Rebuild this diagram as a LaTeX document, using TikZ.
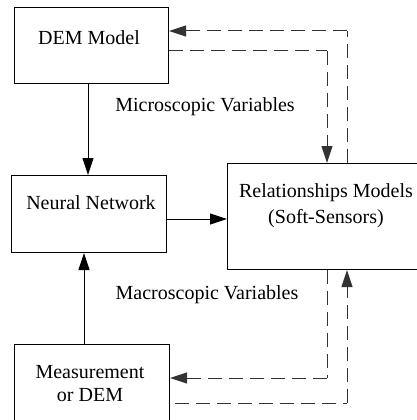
\documentclass[tikz,border=0pt]{standalone}
\usepackage{fontspec}
\setmainfont{Liberation Serif}
\usetikzlibrary{arrows.meta}
\begin{document}
\begin{tikzpicture}[x=1pt,y=-1pt,
  box/.style={draw,line width=1pt,inner sep=0pt,anchor=north west},
  lbl/.style={font=\fontsize{20}{24}\selectfont,inner sep=0pt},
  arr/.style={line width=1pt,-{Triangle[length=17pt,width=11pt]}},
  dsh/.style={line width=1pt,draw=black!80,dash pattern=on 14pt off 7pt}]
\useasboundingbox (0,0) rectangle (417,420);
\clip (0,0) rectangle (417,420);
\node[box,minimum width=154pt,minimum height=76pt] (dem) at (14,7) {};
\node[box,minimum width=155pt,minimum height=77pt] (nn) at (11,175) {};
\node[box,minimum width=203pt,minimum height=106pt] (rm) at (227,163) {};
\node[box,minimum width=155pt,minimum height=96pt] (meas) at (14,344) {};
\node[lbl] (t1) at (89,38) {DEM Model};
\node[lbl] (t2) at (205,107) {Microscopic Variables};
\node[lbl] (t3) at (91,203) {Neural Network};
\node[lbl] (t4) at (326,193) {Relationships Models};
\node[lbl] (t5) at (326,219) {(Soft-Sensors)};
\node[lbl] (t6) at (207,295) {Macroscopic Variables};
\node[lbl] (t7) at (90,372) {Measurement};
\node[lbl] (t8) at (90,395) {or DEM};
\coordinate (c1) at (347,31);
\coordinate (c2) at (327,51);
\coordinate (c3) at (327,378);
\coordinate (c4) at (347,403);
\coordinate (c5) at (175,403);
\draw[arr] (dem.south -| 88,0) -- (nn.north -| 88,0);
\draw[arr] (meas.north -| 84,0) -- (nn.south -| 84,0);
\draw[arr] (nn.east |- 0,219) -- (rm.west |- 0,219);
\draw[dsh] (rm.north -| c1) -- (c1);
\draw[dsh,arr] (c1) -- (dem.east |- c1);
\draw[dsh] (dem.east |- c2) -- (c2);
\draw[dsh,arr] (c2) -- (rm.north -| c2);
\draw[dsh] (rm.south -| c3) -- (c3);
\draw[dsh,arr] (c3) -- (meas.east |- c3);
\draw[dsh] (c5) -- (c4);
\draw[dsh,arr] (c4) -- (rm.south -| c4);
\end{tikzpicture}
\end{document}
